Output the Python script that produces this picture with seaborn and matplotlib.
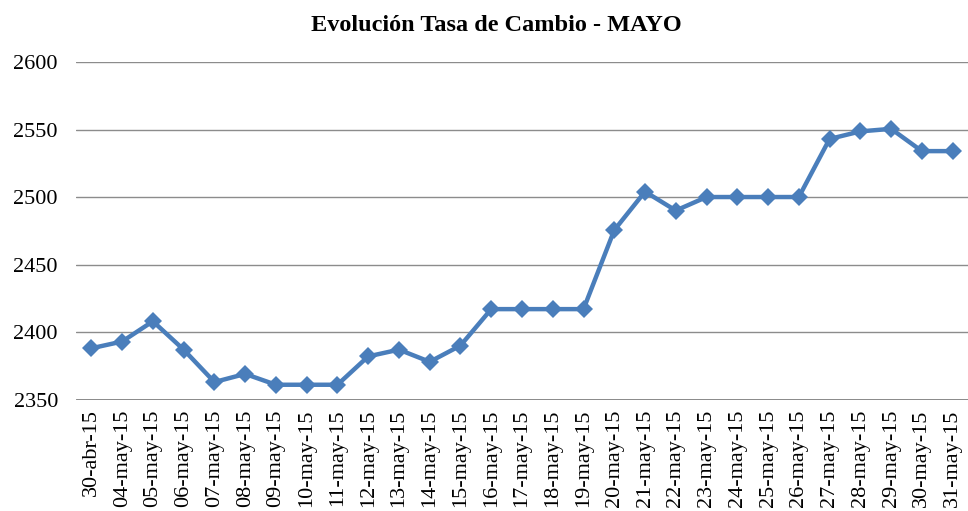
import seaborn as sns
import matplotlib.pyplot as plt
import pandas as pd

# data
fechas = ["30-abr-15", "04-may-15", "05-may-15", "06-may-15", "07-may-15",
          "08-may-15", "09-may-15", "10-may-15", "11-may-15", "12-may-15",
          "13-may-15", "14-may-15", "15-may-15", "16-may-15", "17-may-15",
          "18-may-15", "19-may-15", "20-may-15", "21-may-15", "22-may-15",
          "23-may-15", "24-may-15", "25-may-15", "26-may-15", "27-may-15",
          "28-may-15", "29-may-15", "30-may-15", "31-may-15"]
tasa = [2388, 2393, 2408, 2387, 2363, 2369, 2361, 2361, 2361, 2382,
        2387, 2378, 2390, 2417, 2417, 2417, 2417, 2475.5, 2504, 2490,
        2500, 2500, 2500, 2500, 2543, 2548.6, 2550.5, 2534, 2534]
y_ticks = [2350, 2400, 2450, 2500, 2550, 2600]

sns.set_theme(style="white")
plt.rcParams["font.family"] = ["Liberation Serif", "DejaVu Serif"]
plt.rcParams["text.color"] = "black"
plt.rcParams["xtick.color"] = "black"
plt.rcParams["ytick.color"] = "black"

df = pd.DataFrame({"fecha": fechas, "tasa": tasa})

fig = plt.figure(figsize=(9.68, 5.11), dpi=100)
ax = fig.add_axes([0.0785, 0.218, 0.9215, 0.6607])

for t in y_ticks:
    ax.axhline(t, color="#8c8c8c" if t > 2350 else "#7f7f7f",
               lw=1.0 if t > 2350 else 2.0, zorder=0)

sns.lineplot(data=df, x="fecha", y="tasa", marker="D", color="#4a7ebb",
             lw=3.2, markersize=9, markeredgewidth=0, ax=ax)

ax.set_xlim(-0.5, len(fechas) - 0.5)
ax.set_ylim(2350, 2600)
ax.set_yticks(y_ticks)
ax.set_xticks(range(len(fechas)))
ax.set_xticklabels(fechas, rotation=90)
ax.tick_params(axis="y", labelsize=16, pad=13, length=0)
ax.tick_params(axis="x", labelsize=16, pad=7, length=0)
ax.set_xlabel("")
ax.set_ylabel("")
for s in ax.spines.values():
    s.set_visible(False)

fig.text(0.513, 0.951, "Evolución Tasa de Cambio - MAYO", ha="center",
         va="center", fontsize=17.5, fontweight="bold")

fig.savefig("out.png", dpi=100)
